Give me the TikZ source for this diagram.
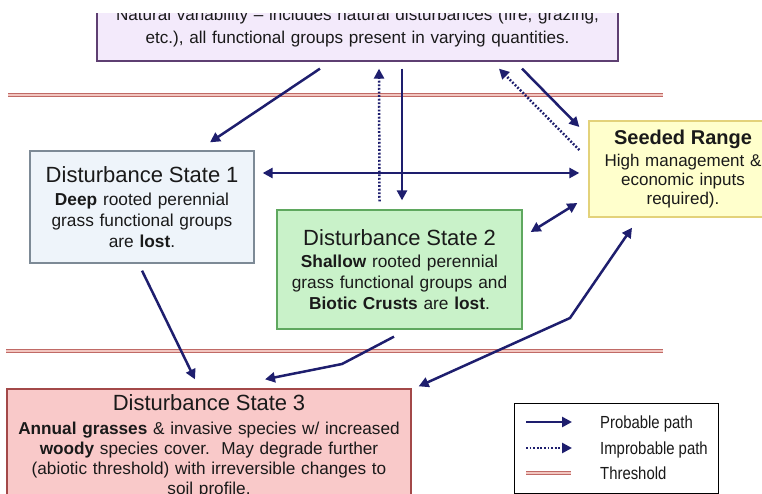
\documentclass[tikz,border=0pt]{standalone}
\usepackage{fontspec}
\setmainfont{Liberation Sans}
\newfontfamily\legfont[FakeStretch=0.85]{Liberation Sans}
\usetikzlibrary{arrows.meta,calc}
\definecolor{arrowblue}{HTML}{1E1E6E}
\definecolor{textgray}{HTML}{1A1A1A}
\definecolor{natfill}{HTML}{F3EAFB}
\definecolor{natdraw}{HTML}{5E3F72}
\definecolor{dsonefill}{HTML}{EEF4FA}
\definecolor{dsonedraw}{HTML}{7D8A96}
\definecolor{dstwofill}{HTML}{C9F2C9}
\definecolor{dstwodraw}{HTML}{5FA85F}
\definecolor{srfill}{HTML}{FFFFCC}
\definecolor{srdraw}{HTML}{E3D27A}
\definecolor{dsthreefill}{HTML}{F9C9C9}
\definecolor{dsthreedraw}{HTML}{A34848}
\definecolor{threshred}{HTML}{C06A66}
\definecolor{threshlight}{HTML}{F2C6C0}
\newcommand{\boxtitle}{\fontsize{22}{24}\selectfont}
\tikzset{
  statebox/.style={rectangle, line width=1.3pt, inner sep=0pt, align=center,
    text=textgray, font=\fontsize{17.3}{21}\selectfont},
  prob/.style={draw=arrowblue, line width=2.5pt, -{Triangle[length=10pt,width=10pt]}},
  probboth/.style={draw=arrowblue, line width=2.5pt,
    {Triangle[length=10pt,width=10pt]}-{Triangle[length=10pt,width=10pt]}},
  improb/.style={prob, dash pattern=on 1.8pt off 1.8pt},
  thresh/.style={draw=threshred, line width=1.3pt, double=threshlight, double distance=1.4pt},
  legtext/.style={anchor=base west, inner sep=0pt, text=textgray,
    font=\legfont\fontsize{17.5}{20}\selectfont},
}
\begin{document}
\begin{tikzpicture}[x=1pt,y=-1pt]
\useasboundingbox (0,0) rectangle (762,494);
\clip (0,0) rectangle (762,494);
\fill[white] (0,0) rectangle (762,494);

% thresholds
\coordinate (t1a) at (8,95);
\coordinate (t1b) at (663,95);
\coordinate (t2a) at (6,351);
\coordinate (t2b) at (663,351);
\draw[thresh] (t1a) -- (t1b);
\draw[thresh] (t2a) -- (t2b);

% top box (clipped at the top)
\begin{scope}
\clip (0,14) rectangle (762,494);
\node[statebox, fill=natfill, draw=natdraw, minimum width=521pt, minimum height=66pt,
  text width=515pt, font=\fontsize{17.1}{23}\selectfont] (nat) at (357.5,28)
  {Natural variability -- includes natural disturbances (fire, grazing,\\
   etc.), all functional groups present in varying quantities.};
\end{scope}

\node[statebox, fill=dsonefill, draw=dsonedraw, minimum width=224pt, minimum height=112pt,
  text width=220pt] (ds1) at (142,207)
  {{\boxtitle Disturbance State 1}\\[2pt]
   \textbf{Deep} rooted perennial\\
   grass functional groups\\
   are \textbf{lost}.};

\node[statebox, fill=dstwofill, draw=dstwodraw, minimum width=245pt, minimum height=119pt,
  text width=241pt] (ds2) at (399.5,269.5)
  {{\boxtitle Disturbance State 2}\\[1pt]
   \textbf{Shallow} rooted perennial\\
   grass functional groups and\\
   \textbf{Biotic Crusts} are \textbf{lost}.};

\node[statebox, fill=srfill, draw=srdraw, minimum width=188pt, minimum height=96pt,
  text width=184pt, font=\fontsize{17}{19}\selectfont] (sr) at (683,169)
  {{\fontsize{20}{22}\selectfont\bfseries Seeded Range}\\[3.5pt]
   High management \&\hspace*{12pt}\\
   economic inputs\hspace*{10pt}\\
   required).};

\node[statebox, fill=dsthreefill, draw=dsthreedraw, minimum width=404pt, minimum height=114pt,
  text width=400pt, font=\fontsize{17.2}{20}\selectfont] (ds3) at (209,446)
  {{\boxtitle Disturbance State 3}\\[3.8pt]
   \textbf{Annual grasses} \& invasive species w/ increased\\
   \textbf{woody} species cover.\ \ May degrade further\\
   (abiotic threshold) with irreversible changes to\\
   soil profile.};

% legend
\node[draw=black, line width=1pt, fill=white, minimum width=204pt, minimum height=90pt,
  inner sep=0pt] (leg) at (616,448) {};
\coordinate (pa) at (526,422);
\coordinate (pb) at (572,422);
\coordinate (ia) at (526,448);
\coordinate (ib) at (572,448);
\coordinate (ta) at (526,473);
\coordinate (tb) at (571,473);
\draw[prob] (pa) -- (pb);
\draw[improb] (ia) -- (ib);
\draw[thresh] (ta) -- (tb);
\node[legtext] (lp) at (600,428.5) {Probable path};
\node[legtext] (li) at (600,454.5) {Improbable path};
\node[legtext] (lt) at (600,479.5) {Threshold};

% connectors
\draw[prob] ([xshift=-37.5pt,yshift=-7pt]nat.south) -- ([xshift=68pt,yshift=8pt]ds1.north);
\draw[improb] ([xshift=-20pt,yshift=8pt]ds2.north) -- ([xshift=21.5pt,yshift=-7pt]nat.south);
\draw[prob] ([xshift=44.5pt,yshift=-7pt]nat.south) -- ([xshift=2.5pt,yshift=9pt]ds2.north);
\draw[improb] ([xshift=-9pt,yshift=19pt]sr.west) -- ([xshift=141.5pt,yshift=-7pt]nat.south);
\draw[prob] ([xshift=164.5pt,yshift=-7pt]nat.south) -- ([xshift=-9pt,yshift=42pt]sr.west);
\draw[probboth] ([xshift=8pt,yshift=34pt]ds1.east) -- ([xshift=-9pt,yshift=-4pt]sr.west);
\draw[probboth] ([xshift=8pt,yshift=37.5pt]ds2.east) -- ([xshift=-11pt,yshift=-34pt]sr.west);
\draw[prob] ([yshift=-7pt]ds1.south) -- ([xshift=-14pt,yshift=9pt]ds3.north);
\coordinate (bendA) at (342,364);
\draw[prob] ([xshift=-5.5pt,yshift=-7pt]ds2.south) -- (bendA) -- ([xshift=56pt,yshift=9pt]ds3.north);
\coordinate (bendB) at (570,318);
\draw[probboth] ([xshift=7pt,yshift=2pt]ds3.north east) -- (bendB) -- ([xshift=-51pt,yshift=-10pt]sr.south);
\end{tikzpicture}
\end{document}
